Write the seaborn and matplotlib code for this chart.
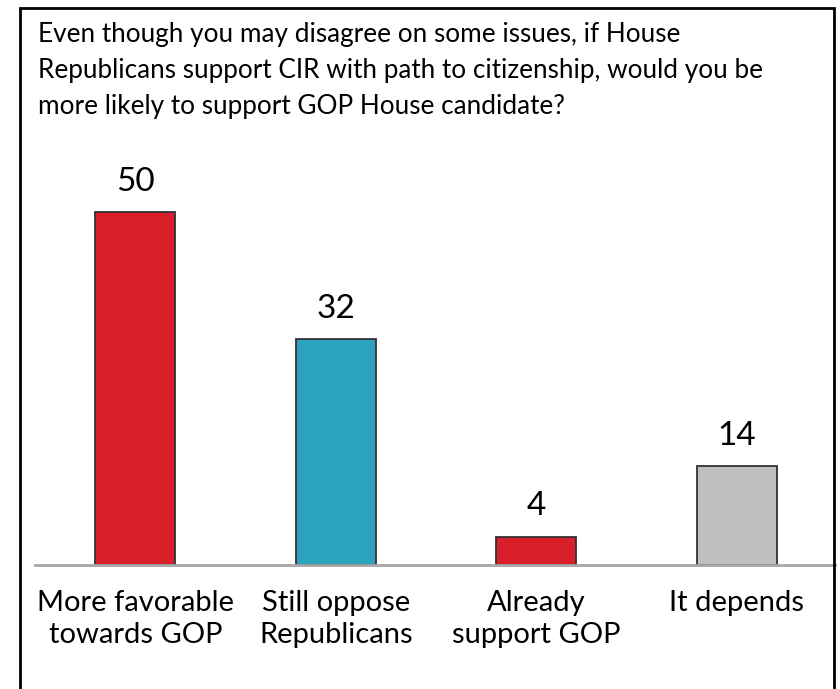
import matplotlib
matplotlib.use("Agg")
import matplotlib.pyplot as plt
import seaborn as sns
import pandas as pd
from matplotlib.patches import Rectangle

categories = ["More favorable\ntowards GOP", "Still oppose\nRepublicans", "Already\nsupport GOP", "It depends"]
values = [50, 32, 4, 14]
colors = ["#D9202A", "#2CA3BE", "#D9202A", "#BFBFBF"]
title = ("Even though you may disagree on some issues, if House\n"
         "Republicans support CIR with path to citizenship, would you be\n"
         "more likely to support GOP House candidate?")

sns.set_theme(style="white")
plt.rcParams['font.family'] = ['Lato', 'DejaVu Sans']

df = pd.DataFrame({"cat": categories, "val": values})

fig = plt.figure(figsize=(8.4, 6.89), dpi=100)
W, H = 840, 689
ax = fig.add_axes([35 / W, (H - 565) / H, 800 / W, 425 / H])

sns.barplot(data=df, x="cat", y="val", hue="cat", palette=colors, legend=False,
            width=0.4, edgecolor="#333333", linewidth=1.3, ax=ax, saturation=1)

ax.set_xlim(-0.5, 3.49)
ax.set_ylim(0, 425 / 7.06)
ax.set_xlabel("")
ax.set_ylabel("")
ax.set_yticks([])
for s in ["top", "right", "left"]:
    ax.spines[s].set_visible(False)
ax.spines["bottom"].set_color("#A6A6A6")
ax.spines["bottom"].set_linewidth(2)
ax.tick_params(axis="x", length=0, labelsize=21, pad=18, colors="black")
for lbl in ax.get_xticklabels():
    lbl.set_linespacing(1.3)

for i, v in enumerate(values):
    ax.annotate(str(v), (i, v), xytext=(0, 11), textcoords="offset points",
                ha="center", va="bottom", fontsize=24, color="black")

fig.text(38 / W, 1 - 22 / H, title, ha="left", va="top", fontsize=18.8,
         linespacing=1.56, color="black")

fig.patches.append(Rectangle((20 / W, -0.05), 814 / W, 1.05 - 8 / H,
                             transform=fig.transFigure, fill=False,
                             edgecolor="black", linewidth=2))

fig.savefig("out.png", dpi=100)
